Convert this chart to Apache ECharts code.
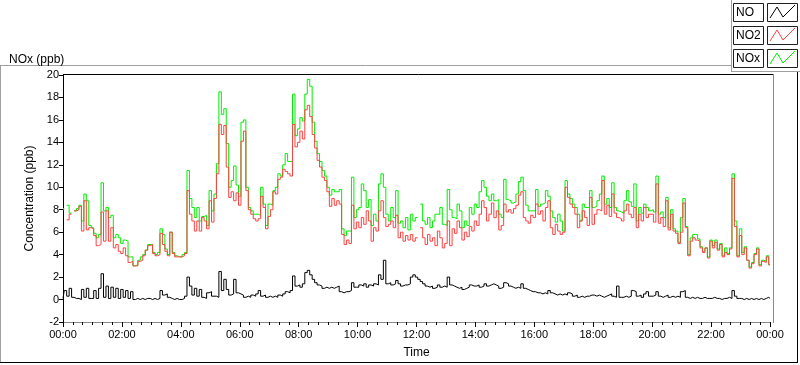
<!DOCTYPE html>
<html><head><meta charset="utf-8">
<script src="https://cdn.jsdelivr.net/npm/echarts@6/dist/echarts.min.js"></script>
<style>html,body{margin:0;padding:0;background:#fff}#c{width:800px;height:365px}</style>
</head><body><div id="c"></div>
<script>
// sample step in minutes (index i -> i*5 minutes after 00:00)
const stepMinutes = 5;

const no2 = [
 8.0,null,7.1,7.6,null,7.9,8.0,8.3,6.1,8.8,6.2,6.4,
 6.3,5.7,4.8,4.9,7.8,5.2,7.9,5.2,6.4,4.6,4.9,4.3,
 4.1,4.6,3.9,3.3,3.4,3.0,3.0,3.4,3.5,3.9,4.4,4.8,
 4.9,4.1,3.9,4.0,5.9,4.9,4.3,3.9,6.0,4.1,3.8,3.8,
 3.8,3.9,4.1,9.7,7.6,7.0,6.1,7.0,6.1,7.3,7.0,6.3,
 8.8,6.9,9.0,11.2,15.6,14.7,15.5,11.8,9.1,9.6,8.8,9.5,
 8.4,14.1,15.0,9.7,8.0,7.6,7.2,7.0,7.2,9.2,8.2,6.3,
 7.4,8.0,9.6,9.4,10.7,10.9,11.6,11.4,11.2,11.0,15.6,13.6,
 14.0,15.0,14.3,16.9,17.3,16.3,14.7,13.5,12.4,11.8,10.9,10.6,
 9.6,8.3,9.0,8.4,8.8,8.5,5.8,4.9,5.3,5.0,8.4,6.3,
 6.9,6.4,7.3,6.7,7.9,7.0,5.2,6.4,6.1,7.9,8.8,7.3,
 6.5,6.7,7.0,6.4,7.5,5.5,6.0,5.2,5.7,5.3,5.8,5.2,
 5.5,null,6.4,5.5,4.9,5.8,5.2,5.5,4.8,6.1,5.5,4.6,
 5.0,7.0,4.8,6.3,5.9,7.0,6.4,5.3,6.0,5.6,6.5,6.1,
 7.0,6.6,7.6,8.8,8.2,7.0,7.6,8.6,7.3,7.9,6.2,6.6,
 8.5,7.8,8.0,7.7,8.1,8.4,9.3,9.6,7.3,7.0,6.8,7.5,
 7.3,8.5,7.6,7.9,7.0,8.2,8.8,6.4,5.8,6.7,6.1,5.8,
 6.0,10.0,9.1,8.5,8.2,7.6,6.4,7.0,7.9,7.3,6.6,9.1,
 6.7,7.6,8.0,7.9,10.6,7.6,8.4,7.4,9.4,7.7,7.3,7.2,
 7.0,7.9,8.5,7.6,7.3,8.2,6.4,7.6,7.0,8.2,7.3,7.6,
 7.6,6.9,10.3,6.8,7.3,6.5,8.8,6.2,7.6,6.1,5.9,5.0,
 6.0,8.6,6.4,3.9,5.2,5.5,5.3,5.2,4.6,4.2,4.6,3.7,
 5.2,4.6,5.1,4.4,4.9,3.8,4.2,4.0,4.5,10.8,6.5,3.8,
 5.7,4.0,4.6,3.5,2.8,3.2,4.0,4.5,3.0,3.4,3.3,3.8,3.1
];

const nox = [
 8.1,null,8.4,7.7,null,7.9,8.1,8.4,7.0,9.4,8.8,6.6,
 6.4,5.9,5.5,5.8,10.4,7.9,8.2,7.3,7.5,5.5,5.8,5.5,
 5.0,5.3,5.2,3.8,3.8,3.0,3.1,3.5,3.8,4.0,4.4,4.9,
 4.9,4.2,4.0,4.2,6.3,5.8,4.5,4.0,6.0,4.2,3.9,3.8,
 3.8,4.0,4.2,11.5,9.0,8.2,7.3,8.2,7.0,7.4,7.5,6.6,
 9.7,7.9,9.4,12.1,18.5,16.5,17.0,13.9,10.0,10.6,11.9,10.2,
 9.2,15.8,16.0,10.0,8.2,7.9,7.6,7.6,7.5,10.0,8.5,6.6,
 8.5,8.4,9.7,10.0,11.2,11.0,12.0,13.0,12.3,12.3,18.3,14.6,
 15.2,16.2,15.9,18.3,19.6,19.0,15.8,14.1,13.0,12.3,11.5,11.0,
 10.0,9.3,9.8,9.6,9.6,9.8,6.3,5.7,6.1,6.1,10.9,7.3,
 8.0,8.2,10.3,9.7,8.2,8.9,6.6,7.6,7.0,10.3,11.2,10.0,
 7.6,7.0,8.2,7.3,9.7,6.8,7.0,6.4,7.3,6.2,7.6,7.0,
 7.3,null,8.5,7.0,6.7,7.3,6.4,7.0,7.6,7.6,8.2,6.7,
 6.6,9.8,8.0,7.3,7.2,8.5,7.9,6.4,7.0,6.6,8.2,7.6,
 8.5,8.2,9.6,10.6,10.0,9.2,8.8,9.4,8.8,8.9,7.6,7.3,
 10.7,8.9,8.8,8.6,8.7,9.4,10.5,10.9,9.7,8.4,7.9,7.9,
 7.9,9.8,8.3,8.5,8.6,9.7,9.2,7.9,7.3,6.9,7.6,7.0,
 6.1,10.6,9.4,9.0,8.5,8.2,7.6,7.0,8.5,8.2,8.2,9.7,
 8.2,8.3,8.8,9.4,11.0,8.5,9.0,8.2,10.4,8.2,7.9,7.8,
 7.7,8.8,9.7,8.7,8.3,10.3,7.0,8.2,7.7,8.5,8.2,7.9,
 8.0,7.8,11.0,7.6,7.8,7.3,9.1,6.4,8.0,6.3,6.1,5.1,
 7.3,9.0,6.5,4.0,5.5,5.8,5.8,5.4,4.7,4.3,4.6,3.8,
 5.3,4.8,5.3,4.5,5.0,3.9,4.6,4.1,4.6,11.2,7.0,3.9,
 6.3,4.2,4.7,3.5,2.9,3.3,4.1,4.6,3.1,3.5,3.4,3.9,3.1
];

const no = [
 0.1,0.8,0.3,1.0,0.2,0.1,0.1,0.0,0.9,0.2,1.0,0.1,
 0.1,0.8,0.1,1.0,2.3,0.2,1.2,0.1,1.1,0.2,1.0,0.1,
 0.9,0.2,0.8,0.1,0.7,0.0,0.1,0.0,0.1,0.0,0.1,0.1,
 0.0,0.1,0.0,0.1,0.8,0.4,0.5,0.2,0.1,0.0,0.1,0.0,
 0.0,0.1,0.3,2.0,1.2,0.4,1.0,0.3,0.9,0.2,0.1,0.6,
 0.7,0.3,0.3,0.2,2.5,0.8,1.8,0.9,0.4,0.5,1.8,0.6,
 0.5,0.4,0.2,0.3,0.2,0.4,0.3,0.5,0.8,0.3,0.4,0.2,
 0.3,0.2,0.3,0.2,0.4,0.3,0.5,0.7,0.6,0.8,2.1,1.2,
 1.3,1.1,1.4,2.4,2.6,2.2,1.8,1.5,1.3,1.2,1.0,1.1,
 1.0,1.1,1.0,1.1,1.2,0.7,0.6,0.7,0.7,0.8,1.5,1.1,
 1.1,1.3,1.2,1.4,1.1,1.3,1.2,1.4,1.3,2.2,1.8,3.5,
 1.4,1.5,1.3,1.4,1.7,1.4,1.2,1.3,1.3,1.4,2.0,2.2,
 2.0,1.8,1.6,1.4,1.2,1.1,1.2,1.0,1.1,1.3,1.1,1.2,
 1.1,2.0,1.3,1.2,1.1,1.0,1.1,0.9,1.0,1.1,1.3,1.2,
 1.2,1.3,1.1,1.2,1.4,1.2,1.3,1.4,1.3,1.2,1.0,1.1,
 1.5,1.4,1.2,1.1,1.0,1.1,1.0,1.4,1.0,0.9,0.8,0.7,
 0.7,0.6,0.6,0.5,0.6,0.5,0.8,0.6,0.5,0.4,0.5,0.4,
 0.5,0.4,0.6,0.5,0.3,0.4,0.2,0.3,0.2,0.3,0.3,0.4,
 0.4,0.3,0.4,0.3,0.2,0.3,0.4,0.5,0.3,0.2,1.2,0.2,
 0.2,0.3,0.2,0.3,0.8,0.7,0.3,0.4,0.2,0.5,0.7,0.3,
 0.3,0.4,0.7,0.3,0.2,0.3,0.4,0.2,0.3,0.2,0.3,0.2,
 0.7,0.8,0.2,0.1,0.2,0.1,0.2,0.1,0.1,0.2,0.1,0.1,
 0.1,0.2,0.1,0.1,0.0,0.1,0.1,0.2,0.1,0.8,0.3,0.1,
 0.1,0.0,0.1,0.0,0.1,0.0,0.1,0.0,0.1,0.0,0.1,0.2,0.1
];

const legendNames = ['NO', 'NO2', 'NOx'];
const legendColors = ['#000000', '#ff4040', '#00ee00'];
const chartTitle = 'NOx (ppb)';
const yTitle = 'Concentration (ppb)';
const xTitle = 'Time';

function pairs(arr){ return arr.map((v,i)=>[i*stepMinutes, v]); }
function fmtTime(v){
  const h = Math.floor(v/60)%24, m = Math.round(v%60);
  return String(h).padStart(2,'0')+':'+String(m).padStart(2,'0');
}

const FONT = '"Liberation Sans", Arial, sans-serif';
const chart = echarts.init(document.getElementById('c'), null, {renderer:'canvas'});

// legend panel graphics
const legendG = [];
const rowTops = [3, 26, 49];
legendNames.forEach((n, k) => {
  const t = rowTops[k];
  legendG.push({type:'rect', shape:{x:733.5,y:t+0.5,width:30,height:18}, style:{fill:'#ffffff',stroke:'#202020',lineWidth:1}, silent:true});
  legendG.push({type:'text', style:{x:736, y:t+10, text:n, fill:'#000', font:'12px '+FONT, verticalAlign:'middle', textAlign:'left'}, silent:true});
  legendG.push({type:'rect', shape:{x:767.5,y:t+0.5,width:30,height:18}, style:{fill:'#ffffff',stroke:'#202020',lineWidth:1}, silent:true});
  legendG.push({type:'polyline', shape:{points:[[770,t+15],[777,t+4],[783,t+14],[795,t+2]]}, style:{stroke:legendColors[k], lineWidth:1, fill:null}, silent:true});
});

const option = {
  animation:false,
  backgroundColor:'#ffffff',
  title:{ text:chartTitle, left:4, top:49, textStyle:{fontSize:12, fontWeight:'normal', color:'#000', fontFamily:FONT}},
  grid:{ left:63, right:30, top:75, bottom:43, containLabel:false },
  xAxis:{
    type:'value', min:0, max:1440, interval:120,
    name:xTitle, nameLocation:'middle', nameGap:25,
    nameTextStyle:{fontSize:12, color:'#000', fontFamily:FONT},
    axisLine:{show:true, onZero:false, lineStyle:{color:'#8a8a8a', width:1}},
    axisTick:{show:true, length:5, lineStyle:{color:'#000'}},
    minorTick:{show:true, splitNumber:6, length:3, lineStyle:{color:'#000'}},
    axisLabel:{formatter:fmtTime, fontSize:11, color:'#000', fontFamily:FONT, margin:7},
    splitLine:{show:false}
  },
  yAxis:{
    type:'value', min:-2, max:20, interval:2,
    name:yTitle, nameLocation:'middle', nameGap:27, nameRotate:90,
    nameTextStyle:{fontSize:12, color:'#000', fontFamily:FONT},
    axisLine:{show:true, onZero:false, lineStyle:{color:'#000', width:1}},
    axisTick:{show:true, length:4, lineStyle:{color:'#000'}},
    axisLabel:{fontSize:11, color:'#000', fontFamily:FONT, margin:4},
    splitLine:{show:false}
  },
  series:[
    {name:'NOx', type:'line', data:pairs(nox), showSymbol:false, step:'middle', connectNulls:false, lineStyle:{color:legendColors[2], width:1}, itemStyle:{color:legendColors[2]}, z:2},
    {name:'NO2', type:'line', data:pairs(no2), showSymbol:false, step:'middle', connectNulls:false, lineStyle:{color:legendColors[1], width:1}, itemStyle:{color:legendColors[1]}, z:3},
    {name:'NO', type:'line', data:pairs(no), showSymbol:false, step:'middle', connectNulls:false, lineStyle:{color:legendColors[0], width:1}, itemStyle:{color:legendColors[0]}, z:4}
  ],
  graphic:[
    // outer frame
    {type:'line', shape:{x1:0,y1:65.5,x2:731,y2:65.5}, style:{stroke:'#a0a0a0',lineWidth:1}, silent:true},
    {type:'line', shape:{x1:0.5,y1:65,x2:0.5,y2:363}, style:{stroke:'#a0a0a0',lineWidth:1}, silent:true},
    {type:'line', shape:{x1:0,y1:362.5,x2:798,y2:362.5}, style:{stroke:'#000',lineWidth:1}, silent:true},
    {type:'line', shape:{x1:797.5,y1:72,x2:797.5,y2:363}, style:{stroke:'#000',lineWidth:1}, silent:true},
    // legend panel border
    {type:'line', shape:{x1:731.5,y1:0,x2:731.5,y2:72}, style:{stroke:'#a0a0a0',lineWidth:1}, silent:true},
    {type:'line', shape:{x1:731,y1:71.5,x2:800,y2:71.5}, style:{stroke:'#a0a0a0',lineWidth:1}, silent:true},
    // plot frame top & right
    {type:'line', shape:{x1:63,y1:74.5,x2:774,y2:74.5}, style:{stroke:'#000',lineWidth:1}, silent:true},
    {type:'line', shape:{x1:773.5,y1:74,x2:773.5,y2:323}, style:{stroke:'#8a8a8a',lineWidth:1}, silent:true}
  ].concat(legendG)
};
chart.setOption(option);
</script></body></html>
